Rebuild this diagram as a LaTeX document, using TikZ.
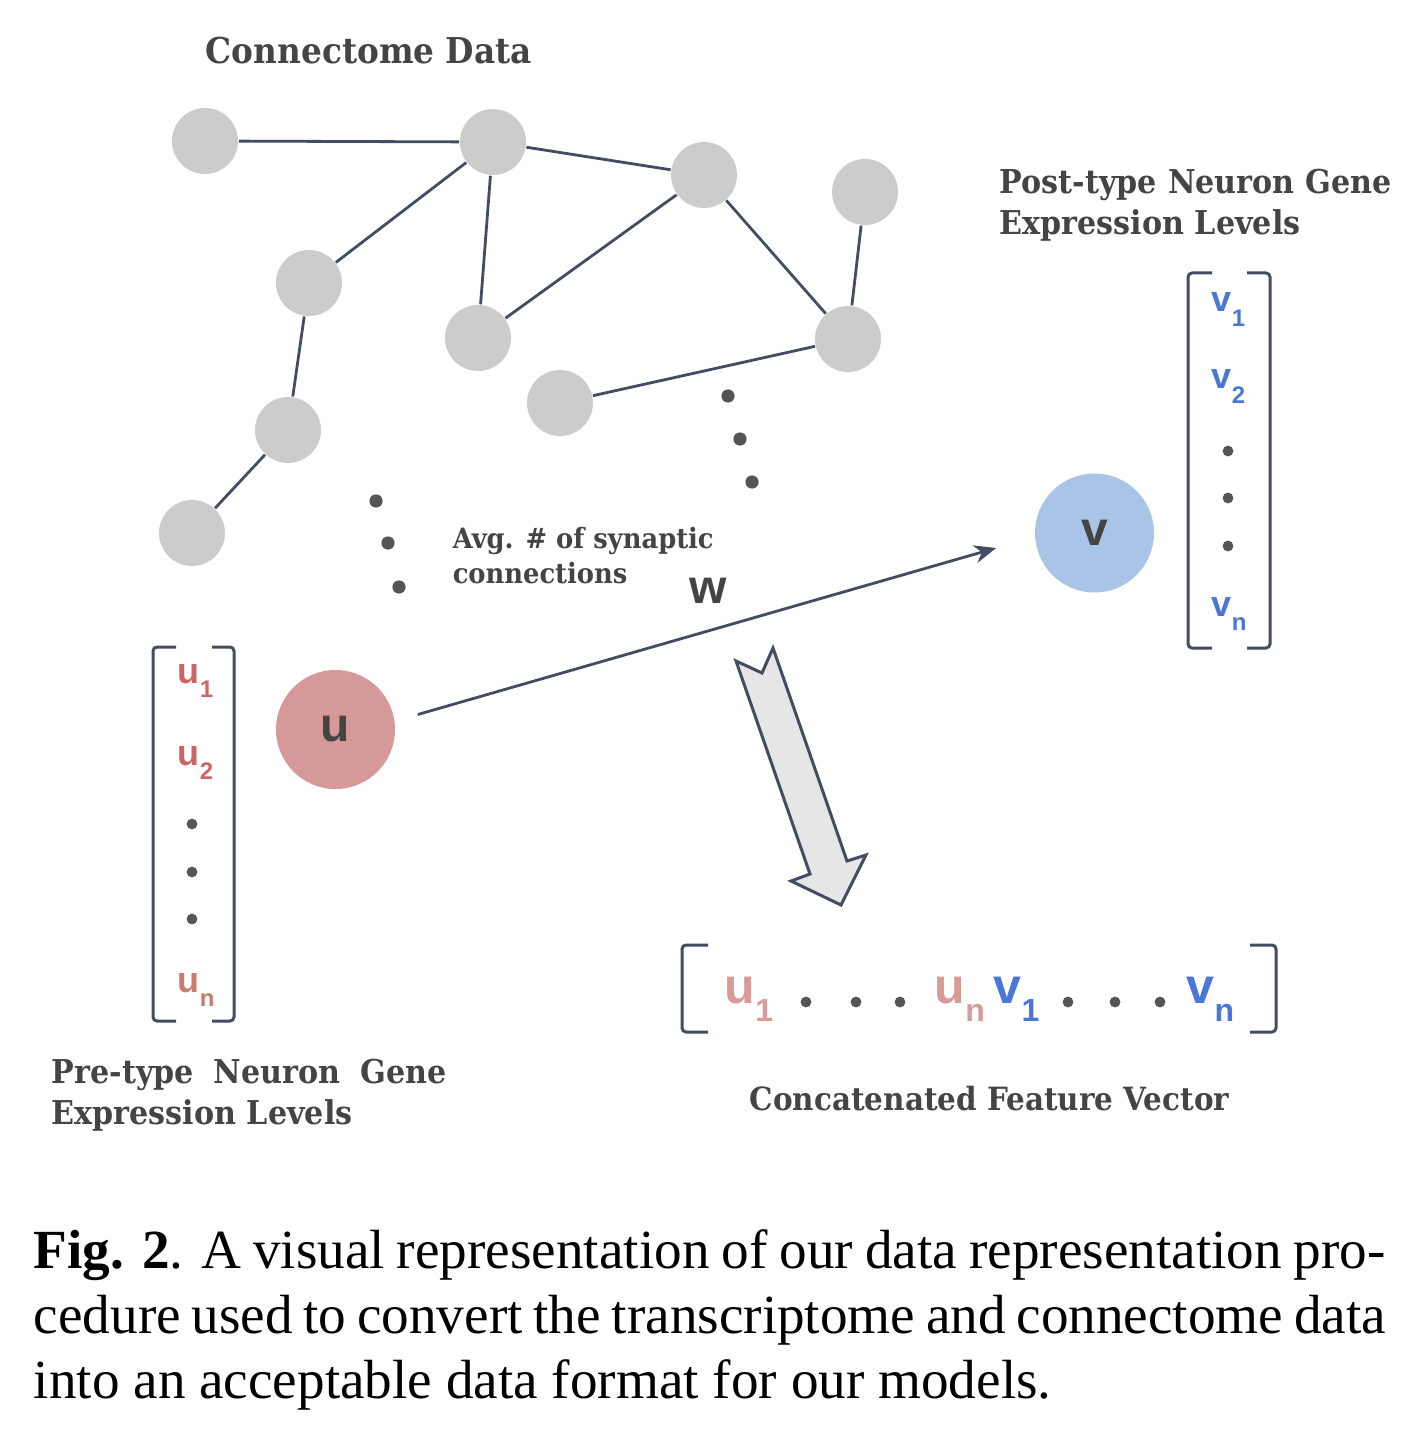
\documentclass[tikz,border=0pt]{standalone}
\usepackage{fontspec}
\setmainfont{Liberation Serif}
\newfontfamily\capfont{Liberation Serif}
\newfontfamily\lblfont[FakeStretch=0.92]{DejaVu Serif}
\newfontfamily\symfont{Liberation Sans}
\usetikzlibrary{arrows.meta,calc}

\definecolor{edgecol}{HTML}{434C60}
\definecolor{nodegray}{HTML}{CCCCCC}
\definecolor{dotgray}{HTML}{555555}
\definecolor{txtgray}{HTML}{444444}
\definecolor{ured}{HTML}{CC6666}
\definecolor{uorange}{HTML}{C97C6C}
\definecolor{upink}{HTML}{D99A9A}
\definecolor{vblue}{HTML}{4A76D8}
\definecolor{ufill}{HTML}{D5999A}
\definecolor{vfill}{HTML}{A9C4E7}
\definecolor{arrowfill}{HTML}{E6E6E6}

% vector entries: small ones in the side vectors, large ones in the feature vector
\newcommand{\elS}[2]{\symfont\bfseries\fontsize{9}{9}\selectfont#1\raisebox{-3.6pt}{\fontsize{6}{6}\selectfont#2}}
\newcommand{\elL}[2]{\symfont\bfseries\fontsize{12.5}{12.5}\selectfont#1\raisebox{-4.5pt}{\fontsize{8}{8}\selectfont#2}}

\begin{document}
\begin{tikzpicture}[x=0.25pt,y=0.25pt,yscale=-1,xscale=1,
	neuron/.style={circle,fill=nodegray,minimum size=16.5pt,inner sep=0pt},
	link/.style={draw=edgecol,line width=0.7pt},
	bullet/.style={circle,fill=dotgray,minimum size=3.3pt,inner sep=0pt},
	vbullet/.style={circle,fill=dotgray,minimum size=2.7pt,inner sep=0pt},
	bracket/.style={draw=edgecol,line width=0.75pt,rounded corners=1pt},
	lbl/.style={text=txtgray,inner sep=0pt,anchor=base west,align=left},
	elem/.style={inner sep=0pt,anchor=base west},
	typenode/.style={circle,minimum size=29.75pt,inner sep=0pt,text=txtgray,font=\symfont\bfseries\fontsize{12}{12}\selectfont}]
	\useasboundingbox (0,0) rectangle (1413,1443);
	
	%Shape: Circle (graph neurons)
	\node[neuron] (n1) at (205,141) {};
	\node[neuron] (n2) at (493,142) {};
	\node[neuron] (n3) at (704,175) {};
	\node[neuron] (n4) at (865,192) {};
	\node[neuron] (n5) at (309,283) {};
	\node[neuron] (n6) at (478,338) {};
	\node[neuron] (n7) at (848,339) {};
	\node[neuron] (n8) at (560,403) {};
	\node[neuron] (n9) at (288,430) {};
	\node[neuron] (n10) at (192,533) {};
	
	%Straight Lines
	\draw[link] (n1) -- (n2);
	\draw[link] (n2) -- (n3);
	\draw[link] (n2) -- (n5);
	\draw[link] (n2) -- (n6);
	\draw[link] (n3) -- (n6);
	\draw[link] (n3) -- (n7);
	\draw[link] (n4) -- (n7);
	\draw[link] (n7) -- (n8);
	\draw[link] (n5) -- (n9);
	\draw[link] (n9) -- (n10);
	
	%Shape: Circle (dots)
	\node[bullet] (d1) at (728,396) {};
	\node[bullet] (d2) at (740,439) {};
	\node[bullet] (d3) at (752,482) {};
	\node[bullet] (d4) at (376,501) {};
	\node[bullet] (d5) at (388,543) {};
	\node[bullet] (d6) at (399,587) {};
	
	% Text Node
	\node[lbl,font=\lblfont\bfseries\fontsize{8.9}{10}\selectfont] (title) at (205,64) {Connectome Data};
	% Text Node
	\node[lbl,font=\lblfont\bfseries\fontsize{7}{8.75}\selectfont] (avg) at (452,583) {Avg. \# of synaptic\\connections};
	
	%Shape: Circle (pre and post neuron)
	\node[typenode,fill=ufill] (u) at (335.5,729.5) {u};
	\node[typenode,fill=vfill] (v) at (1094.5,533) {v};
	\draw[link,-{Stealth[length=5.5pt,width=4.5pt]}] ($(u.east)+(22,-15)$) -- ($(v.west)+(-38,15)$);
	\node[inner sep=0pt,text=txtgray,font=\symfont\bfseries\fontsize{12}{12}\selectfont] (w) at (708,591) {w};
	
	%Shape: Arrow
	\draw[draw=edgecol,line width=0.75pt,fill=arrowfill,line join=miter] (736,661) -- (762,673) -- (773,648) -- (847,861) -- (866,855) -- (841,905) -- (791,881) -- (810,874) -- cycle;
	
	%Post-type vector
	\draw[bracket] (1212,273) -| (1188,648) -- (1212,648);
	\draw[bracket] (1247,273) -| (1270,648) -- (1247,648);
	\node[elem,text=vblue] (v1) at (1211,312) {\elS{v}{1}};
	\node[elem,text=vblue] (v2) at (1211,389) {\elS{v}{2}};
	\node[vbullet] (vd1) at (1228,451) {};
	\node[vbullet] (vd2) at (1228,498) {};
	\node[vbullet] (vd3) at (1228,546) {};
	\node[elem,text=vblue] (vn) at (1211,616) {\elS{v}{n}};
	% Text Node
	\node[lbl,font=\lblfont\bfseries\fontsize{8.2}{10.25}\selectfont] (postlbl) at (999,235) {\makebox[98pt][s]{Post-type Neuron Gene}\\Expression Levels};
	
	%Pre-type vector
	\draw[bracket] (176,647) -| (153,1021) -- (176,1021);
	\draw[bracket] (212,647) -| (234,1021) -- (212,1021);
	\node[elem,text=ured] (u1) at (177,683) {\elS{u}{1}};
	\node[elem,text=ured] (u2) at (177,765) {\elS{u}{2}};
	\node[vbullet] (ud1) at (192,824) {};
	\node[vbullet] (ud2) at (192,872) {};
	\node[vbullet] (ud3) at (192,919) {};
	\node[elem,text=uorange] (un) at (177,992) {\elS{u}{n}};
	% Text Node
	\node[lbl,font=\lblfont\bfseries\fontsize{8.2}{10.25}\selectfont] (prelbl) at (51,1124) {\makebox[98.75pt][s]{Pre-type Neuron Gene}\\Expression Levels};
	
	%Concatenated vector
	\draw[bracket] (708,945) -| (682,1032) -- (708,1032);
	\draw[bracket] (1250,945) -| (1276,1032) -- (1250,1032);
	\node[elem,text=upink] (cu1) at (724,1003) {\elL{u}{1}};
	\node[vbullet] (cd1) at (806,1002) {};
	\node[vbullet] (cd2) at (856,1002) {};
	\node[vbullet] (cd3) at (900,1002) {};
	\node[elem,text=upink] (cun) at (934,1003) {\elL{u}{n}};
	\node[elem,text=vblue] (cv1) at (993,1003) {\elL{v}{1}};
	\node[vbullet] (cd4) at (1068,1002) {};
	\node[vbullet] (cd5) at (1115,1002) {};
	\node[vbullet] (cd6) at (1160,1002) {};
	\node[elem,text=vblue] (cvn) at (1186,1003) {\elL{v}{n}};
	% Text Node
	\node[lbl,font=\lblfont\bfseries\fontsize{8}{10}\selectfont] (catlbl) at (749,1110) {Concatenated Feature Vector};
	
	% Caption
	\node[inner sep=0pt,anchor=base west,text width=338pt,align=justify,font=\capfont\fontsize{13.8}{16.25}\selectfont] (caption) at (33,1268) {\textbf{Fig. 2}. A visual representation of our data representation pro-\linebreak cedure used to convert the transcriptome and connectome data\linebreak into an acceptable data format for our models.};
\end{tikzpicture}
\end{document}
